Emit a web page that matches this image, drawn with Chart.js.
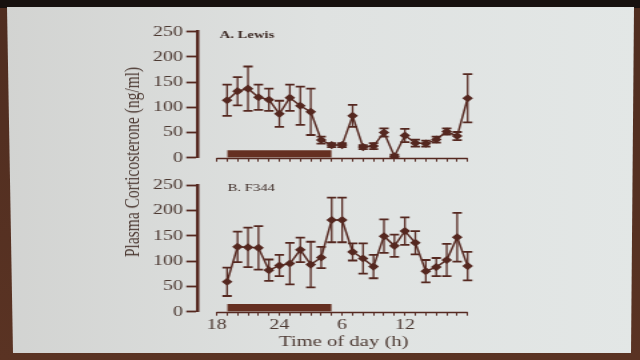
<!DOCTYPE html>
<html lang="en">
<head>
<meta charset="UTF-8">
<title>Plasma corticosterone, Lewis and F344</title>
<style>
  html, body { margin: 0; padding: 0; }
  body {
    width: 640px; height: 360px; overflow: hidden; position: relative;
    background: linear-gradient(#17110f 0, #17110f 8px, #4f2d20 8px, #5a3323 100%);
  }
  #slide {
    position: absolute; left: 0; top: 0; width: 640px; height: 360px;
    background: linear-gradient(90deg, #d2d3d1, #dfe2e1 50%, #e3e7e6);
    clip-path: polygon(7px 7px, 634px 7px, 631px 353px, 13px 353px);
  }
  /* the photo of the slide is stretched sideways, so draw at 3/4 width and widen */
  #stage {
    position: absolute; left: 0; top: 0; width: 480px; height: 360px;
    transform: scaleX(1.3333); transform-origin: 0 0;
  }
  canvas { position: absolute; left: 0; }
  #c1 { top: 0; }
  #c2 { top: 170px; }
  #ytitle {
    position: absolute; left: 99px; top: 162px;
    transform: translate(-50%, -50%) rotate(-90deg);
    white-space: nowrap; color: #4d3a33;
    font: 15.5px "Liberation Serif", serif;
  }
</style>
</head>
<body>
<div id="slide"></div>
<div id="stage">
  <canvas id="c1" width="480" height="175"></canvas>
  <canvas id="c2" width="480" height="190"></canvas>
  <div id="ytitle">Plasma Corticosterone (ng/ml)</div>
</div>

<script src="https://cdn.jsdelivr.net/npm/chart.js@4/dist/chart.umd.min.js"></script>
<script>
// sampling times, hours from 18:00 (19 = 19:00, 42 = 18:00 next day)
const hours = [19, 20, 21, 22, 23, 24, 25, 26, 27, 28, 29, 30, 31, 32, 33, 34, 35, 36, 37, 38, 39, 40, 41, 42];

// A. Lewis
const lewisMean = [114, 132, 137, 120, 115, 87, 119, 103, 91, 35, 25, 25, 83, 21, 23, 50, 3, 44, 29, 28, 36, 52, 43, 118];
const lewisSem = [31, 28, 44, 25, 22, 26, 26, 38, 46, 7, 4, 4, 22, 4, 6, 8, 3, 13, 7, 6, 6, 6, 8, 48];

// B. F344
const f344Mean = [59, 128, 127, 126, 82, 91, 95, 122, 93, 107, 181, 181, 118, 105, 89, 149, 130, 159, 136, 80, 88, 102, 147, 90];
const f344Sem = [28, 30, 39, 43, 21, 21, 41, 24, 45, 21, 44, 44, 17, 30, 23, 33, 22, 27, 23, 22, 18, 32, 48, 28];

// dark phase bar
const darkPhase = [19, 29];
const darkHeight = 15;

// axes
const yTicks = [0, 50, 100, 150, 200, 250];
const hourTicks = [18, 19, 20, 21, 22, 23, 24, 25, 26, 27, 28, 29, 30, 31, 32, 33, 34, 35, 36, 37, 38, 39, 40, 41, 42];
const labelHours = [18, 24, 30, 36];
const labelText = ['18', '24', '6', '12'];

const brown = '#552820';
const barBrown = '#652f21';
const textColor = '#4d3a33';
const serif = '"Liberation Serif", "Times New Roman", serif';

// error bars, drawn under the markers
const errorBars = {
  id: 'errorBars',
  beforeDatasetsDraw(chart, args, opts) {
    const {ctx, scales: {x, y}} = chart;
    ctx.save();
    ctx.strokeStyle = brown;
    opts.mean.forEach((m, i) => {
      const px = x.getPixelForValue(hours[i]);
      const top = y.getPixelForValue(m + opts.sem[i]);
      const bot = y.getPixelForValue(Math.max(0, m - opts.sem[i]));
      ctx.lineWidth = 1.3;
      ctx.beginPath();
      ctx.moveTo(px, top); ctx.lineTo(px, bot);
      ctx.stroke();
      ctx.lineWidth = 1.8;
      ctx.beginPath();
      ctx.moveTo(px - 3.5, top); ctx.lineTo(px + 3.5, top);
      ctx.moveTo(px - 3.5, bot); ctx.lineTo(px + 3.5, bot);
      ctx.stroke();
    });
    ctx.restore();
  }
};

// x axis line only between the first and last hour, plus panel label
const axisAndLabel = {
  id: 'axisAndLabel',
  afterDraw(chart, args, opts) {
    const {ctx, chartArea, scales: {x}} = chart;
    ctx.save();
    ctx.strokeStyle = brown;
    ctx.lineWidth = 1.6;
    ctx.beginPath();
    ctx.moveTo(x.getPixelForValue(hourTicks[0]), chartArea.bottom + 0.8);
    ctx.lineTo(x.getPixelForValue(hourTicks[hourTicks.length - 1]), chartArea.bottom + 0.8);
    ctx.stroke();
    ctx.fillStyle = '#3e2c27';
    ctx.font = opts.font;
    ctx.textBaseline = 'middle';
    ctx.fillText(opts.text, chartArea.left + opts.dx, chartArea.top + 3.5);
    ctx.restore();
  }
};

function makeChart(id, mean, sem, label, showLabels, padTop, xHeight) {
  return new Chart(document.getElementById(id), {
    type: 'line',
    data: {
      datasets: [
        {
          data: hours.map((h, i) => ({x: h, y: mean[i]})),
          borderColor: brown,
          borderWidth: 1.5,
          pointStyle: 'rectRot',
          pointRadius: 3,
          pointBackgroundColor: brown,
          pointBorderColor: brown,
          tension: 0,
          order: 0
        },
        {
          data: darkPhase.map(h => ({x: h, y: darkHeight})),
          fill: 'origin',
          backgroundColor: barBrown,
          borderWidth: 0,
          pointRadius: 0,
          order: 1
        }
      ]
    },
    options: {
      responsive: false,
      animation: false,
      devicePixelRatio: 1,
      layout: { padding: { left: 0, top: padTop, right: 112, bottom: 0 } },
      plugins: {
        legend: { display: false },
        tooltip: { enabled: false },
        errorBars: { mean: mean, sem: sem },
        axisAndLabel: label
      },
      scales: {
        x: {
          type: 'linear',
          min: 16.12,
          max: 44.2,
          afterBuildTicks: s => { s.ticks = hourTicks.map(v => ({value: v})); },
          ticks: {
            display: showLabels,
            autoSkip: false,
            maxRotation: 0,
            padding: 0,
            color: textColor,
            font: { family: serif, size: 15 },
            callback: v => {
              const i = labelHours.indexOf(v);
              return i < 0 ? '' : labelText[i];
            }
          },
          grid: {
            drawOnChartArea: false,
            drawTicks: true,
            tickLength: 4,
            tickColor: brown,
            tickWidth: 1
          },
          border: { display: false },
          title: {
            display: showLabels,
            text: 'Time of day (h)',
            color: textColor,
            font: { family: serif, size: 15.5 },
            padding: { top: 0, bottom: 9 }
          },
          afterFit: s => { s.height = xHeight; }
        },
        y: {
          min: 0,
          max: 250,
          afterBuildTicks: s => { s.ticks = yTicks.map(v => ({value: v})); },
          ticks: {
            color: textColor,
            font: { family: serif, size: 15 },
            padding: 2.5
          },
          grid: {
            drawOnChartArea: false,
            drawTicks: true,
            tickLength: 8,
            tickColor: brown,
            tickWidth: 1.8
          },
          border: { display: true, color: brown, width: 2.5 },
          afterFit: s => { s.width = 147.75; }
        }
      }
    },
    plugins: [errorBars, axisAndLabel]
  });
}

makeChart('c1', lewisMean, lewisSem,
  { text: 'A. Lewis', font: 'bold 11px ' + serif, dx: 17 }, false, 31.7, 17.3);
makeChart('c2', f344Mean, f344Sem,
  { text: 'B. F344', font: '11px ' + serif, dx: 23 }, true, 15, 48.3);
</script>
</body>
</html>
